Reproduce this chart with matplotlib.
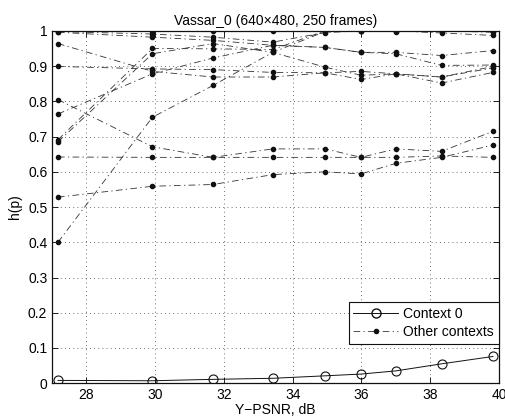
import matplotlib
matplotlib.use("Agg")
import matplotlib.pyplot as plt
from matplotlib.lines import Line2D

plt.rcParams['font.family'] = ['Liberation Sans', 'DejaVu Sans']

psnr = [27.17, 29.92, 31.68, 33.42, 34.94, 35.99, 37.0, 38.33, 39.83]

context0 = [0.008, 0.007, 0.011, 0.014, 0.021, 0.026, 0.035, 0.055, 0.076]

other_t1 = [1.000, 1.000, 1.000, 1.000, 1.000, 1.000, 1.000, 1.000, 1.000]
other_t2 = [0.998, 0.991, 0.982, 0.968, 0.995, 1.000, 1.000, 0.994, 0.987]
other_t3 = [0.996, 0.982, 0.973, 0.959, 0.953, 0.939, 0.939, 0.930, 0.944]
other_a = [0.400, 0.755, 0.845, 0.939, 0.998, 1.000, 1.000, 1.000, 0.996]
other_m1 = [0.691, 0.950, 0.949, 0.947, 1.000, 0.999, 0.998, 1.000, 1.000]
other_m2 = [0.685, 0.935, 0.964, 0.939, 0.897, 0.874, 0.878, 0.852, 0.882]
other_m3 = [0.764, 0.878, 0.923, 0.959, 0.953, 0.939, 0.935, 0.902, 0.903]
other_m4 = [0.964, 0.885, 0.869, 0.869, 0.881, 0.862, 0.878, 0.869, 0.895]
other_m5 = [0.899, 0.892, 0.890, 0.882, 0.881, 0.885, 0.878, 0.869, 0.899]
other_c = [0.805, 0.671, 0.641, 0.665, 0.665, 0.641, 0.665, 0.658, 0.715]
other_d = [0.642, 0.641, 0.641, 0.641, 0.641, 0.641, 0.641, 0.645, 0.641]
other_b = [0.528, 0.559, 0.564, 0.592, 0.600, 0.594, 0.624, 0.641, 0.676]

others = [other_t1, other_t2, other_t3, other_a, other_m1, other_m2, other_m3,
          other_m4, other_m5, other_c, other_d, other_b]

xticks = [28, 30, 32, 34, 36, 38, 40]
yticks = [0, 0.1, 0.2, 0.3, 0.4, 0.5, 0.6, 0.7, 0.8, 0.9, 1]
ytick_labels = ['0', '0.1', '0.2', '0.3', '0.4', '0.5', '0.6', '0.7', '0.8', '0.9', '1']

fig = plt.figure(figsize=(5.06, 4.17), dpi=100)
ax = fig.add_axes([0.103, 0.081, 0.883, 0.845])

dashdot = (0, (8, 4, 1.5, 4))
for ys in others:
    ax.plot(psnr, ys, color='#333333', linestyle=dashdot, linewidth=0.6,
            marker='.', markersize=6, markerfacecolor='#111111', markeredgecolor='#111111')

ax.plot(psnr, context0, color='#111111', linestyle='-', linewidth=0.7,
        marker='o', markersize=6.5, markerfacecolor='none', markeredgecolor='#111111',
        markeredgewidth=0.8)

ax.set_xlim(27, 40)
ax.set_ylim(0, 1)
ax.set_xticks(xticks)
ax.set_yticks(yticks)
ax.set_yticklabels(ytick_labels)
ax.tick_params(direction='in', labelsize=10, length=4, width=0.6, top=True, right=True)
ax.grid(True, linestyle=(0, (1, 4)), color='#444444', linewidth=0.6)
for s in ax.spines.values():
    s.set_linewidth(0.9)
    s.set_color('#111111')

ax.set_title('Vassar_0 (640\u00d7480, 250 frames)', fontsize=10, pad=4)
ax.set_xlabel('Y\u2212PSNR, dB', fontsize=10, labelpad=1)
ax.set_ylabel('h(p)', fontsize=10, labelpad=4)

handles = [
    Line2D([], [], color='#111111', linestyle='-', linewidth=0.7, marker='o', markersize=6.5,
           markerfacecolor='none', markeredgecolor='#111111'),
    Line2D([], [], color='#333333', linestyle=dashdot, linewidth=0.6, marker='.', markersize=6,
           markerfacecolor='#111111', markeredgecolor='#111111'),
]
leg = ax.legend(handles, ['Context 0', 'Other contexts'], loc='lower right',
                bbox_to_anchor=(1.0, 0.112), fontsize=10, fancybox=False, framealpha=1,
                edgecolor='#111111', borderpad=0.35, handlelength=3.2, labelspacing=0.3,
                borderaxespad=0, handletextpad=0.4)
leg.get_frame().set_linewidth(0.8)

fig.savefig('out.png', dpi=100)
